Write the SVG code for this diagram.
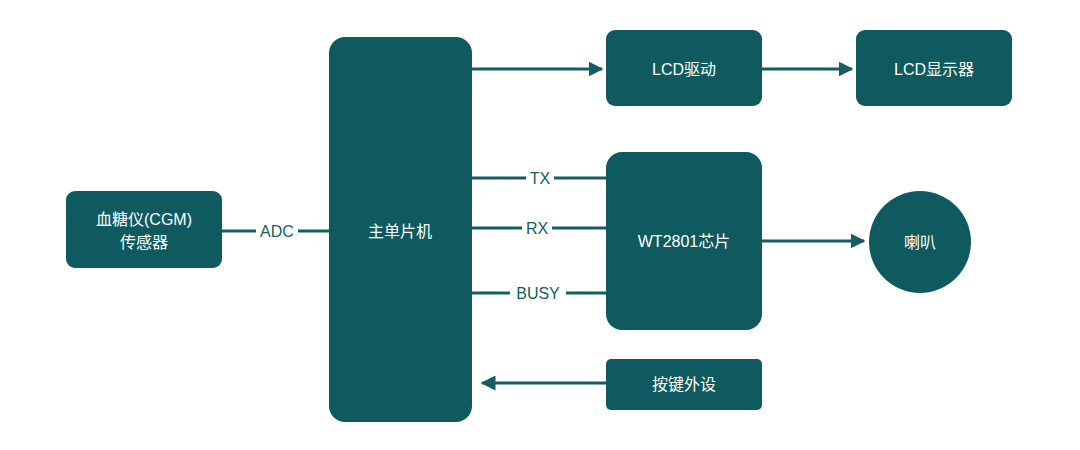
<svg xmlns="http://www.w3.org/2000/svg" width="1080" height="450" viewBox="0 0 1080 450">
<style>
.n{fill:#0e5a5e}
.t{fill:#fff;font-family:"Liberation Sans","Noto Sans CJK SC",sans-serif;font-size:16px;text-anchor:middle;dominant-baseline:central}
.c{stroke:#145d62;stroke-width:3;fill:none}
.l{fill:#145d62;font-family:"Liberation Sans","Noto Sans CJK SC",sans-serif;font-size:16px;text-anchor:middle;dominant-baseline:central}
.lb{fill:#fff}
</style>
<defs><marker id="a" viewBox="0 0 10 10" refX="9" refY="5" markerWidth="5" markerHeight="5" orient="auto"><path d="M0,0L10,5L0,10z" fill="#145d62"/></marker></defs>
<rect width="1080" height="450" fill="#fff"/>
<g id="connectors">
<path class="c" d="M222,231H329"/>
<path class="c" d="M472,69H602" marker-end="url(#a)"/>
<path class="c" d="M762,69H852" marker-end="url(#a)"/>
<path class="c" d="M472,178H606"/>
<path class="c" d="M472,228H606"/>
<path class="c" d="M472,293H606"/>
<path class="c" d="M762,241H864" marker-end="url(#a)"/>
<path class="c" d="M606,383H482" marker-end="url(#a)"/>
<rect class="lb" x="256" y="221" width="42" height="20"/><text class="l" x="277" y="231">ADC</text>
<rect class="lb" x="526" y="168" width="28" height="20"/><text class="l" x="540" y="178">TX</text>
<rect class="lb" x="522" y="218" width="30" height="20"/><text class="l" x="537" y="228">RX</text>
<rect class="lb" x="510" y="283" width="56" height="20"/><text class="l" x="538" y="293">BUSY</text>
</g>
<g id="cgm"><rect class="n" x="66" y="191" width="156" height="77" rx="9"/><text class="t" x="144" y="219">血糖仪(CGM)</text><text class="t" x="144" y="242">传感器</text></g>
<g id="mcu"><rect class="n" x="329" y="37" width="143" height="385" rx="16"/><text class="t" x="400" y="231">主单片机</text></g>
<g id="lcddrv"><rect class="n" x="606" y="30" width="156" height="76" rx="9"/><text class="t" x="684" y="69">LCD驱动</text></g>
<g id="lcd"><rect class="n" x="856" y="30" width="156" height="76" rx="9"/><text class="t" x="934" y="69">LCD显示器</text></g>
<g id="wt"><rect class="n" x="606" y="152" width="156" height="178" rx="16"/><text class="t" x="684" y="241">WT2801芯片</text></g>
<g id="spk"><circle class="n" cx="920" cy="242" r="51"/><text class="t" x="920" y="242">喇叭</text></g>
<g id="key"><rect class="n" x="606" y="359" width="156" height="51" rx="5"/><text class="t" x="684" y="384">按键外设</text></g>
</svg>
